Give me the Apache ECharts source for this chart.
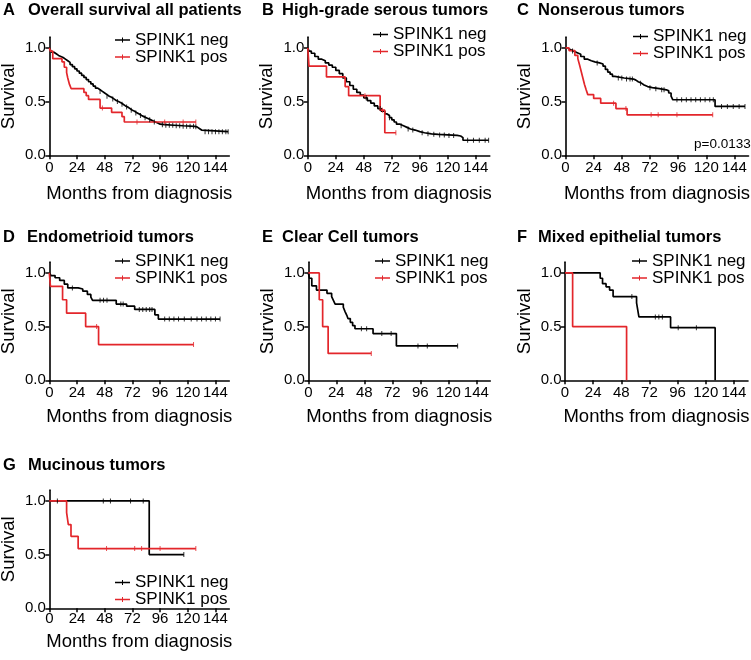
<!DOCTYPE html>
<html><head><meta charset="utf-8">
<script src="https://cdn.jsdelivr.net/npm/echarts@6/dist/echarts.min.js"></script>
<style>html,body{margin:0;padding:0;background:#fff}#c{width:751px;height:660px}</style>
</head><body><div id="c"></div>
<script>
// ---------- labels ----------
const panelLetters = ['A','B','C','D','E','F','G'];
const panelTitles = ['Overall survival all patients','High-grade serous tumors','Nonserous tumors','Endometrioid tumors','Clear Cell tumors','Mixed epithelial tumors','Mucinous tumors'];
const seriesNames = ['SPINK1 neg','SPINK1 pos'];
const xTicks = [0,24,48,72,96,120,144];
const yTicks = [0,0.5,1.0];
const xAxisTitle = 'Months from diagnosis';
const yAxisTitle = 'Survival';
const pValueC = 'p=0.0133';

// ---------- A: Overall survival all patients ----------
const aNegT = [0,1,2,4,6,8,10,12,14,16,18,20,22,24,26,28,30,32,34,36,38,40,42,44,46,48,50,52,54,56,58,60,62,64,66,68,70,72,74,76,78,80,82,84,86,88,90,92,94,96,100,108,116,126,128,130,132,155];
const aNegS = [1.0,0.98,0.96,0.945,0.93,0.92,0.91,0.895,0.88,0.865,0.845,0.825,0.805,0.785,0.765,0.745,0.725,0.705,0.685,0.665,0.645,0.625,0.61,0.595,0.58,0.565,0.55,0.54,0.525,0.51,0.50,0.49,0.475,0.46,0.45,0.435,0.42,0.41,0.395,0.385,0.37,0.36,0.35,0.34,0.33,0.32,0.31,0.30,0.29,0.285,0.28,0.275,0.27,0.265,0.25,0.235,0.22,0.22];
const aNegC = [44,50,55,59,63,67,71,75,79,83,87,91,98,101,104,107,110,113,116,119,122,125,127,135,138,141,144,147,150,153,155];
const aPosT = [0,1,3,11,13,15,16,17.5,19,30,32,34,44,54,63,65,127];
const aPosS = [1.0,0.97,0.90,0.87,0.82,0.77,0.72,0.66,0.62,0.585,0.555,0.52,0.44,0.40,0.36,0.31,0.31];
const aPosC = [46,76,100,116,127];

// ---------- B: High-grade serous ----------
const bNegT = [0,1,3,6,9,12,15,18,21,24,27,30,33,36,39,42,45,48,51,54,57,60,63,66,68,70,72,74,76,79,82,85,88,92,96,100,106,112,120,128,131,133,155];
const bNegS = [1.0,0.97,0.95,0.92,0.895,0.88,0.86,0.84,0.82,0.79,0.76,0.72,0.685,0.65,0.615,0.585,0.56,0.535,0.51,0.485,0.46,0.435,0.41,0.385,0.37,0.35,0.33,0.31,0.29,0.275,0.26,0.245,0.235,0.22,0.21,0.2,0.195,0.19,0.185,0.18,0.165,0.14,0.14];
const bNegC = [50,62,70,80,86,90,98,103,108,113,117,121,125,137,142,147,152,155];
const bPosT = [0,1,16,32,35,62,66,75.5];
const bPosS = [1.0,0.83,0.73,0.64,0.555,0.42,0.21,0.21];
const bPosC = [49,64,75.5];

// ---------- C: Nonserous ----------
const cNegT = [0,2,4,7,10,13,16,19,22,25,29,32,34,36,38,40,42,50,58,60,62,65,67,70,74,80,86,88,90,91.5,127.5,153];
const cNegS = [1.0,0.985,0.97,0.955,0.94,0.92,0.895,0.88,0.87,0.86,0.85,0.83,0.80,0.775,0.755,0.735,0.72,0.71,0.70,0.685,0.67,0.655,0.64,0.63,0.62,0.61,0.60,0.58,0.55,0.517,0.455,0.455];
const cNegC = [6,27,45,48,52,55,57,64,72,77,82,84,95,99,103,107,111,115,119,123,126,133,138,143,148,153];
const cPosT = [0,3,8,10.5,12,13.4,14.8,16.2,17.6,19,24,30,43,52.5,125.5];
const cPosS = [1.0,0.975,0.93,0.90,0.84,0.78,0.72,0.66,0.61,0.565,0.53,0.485,0.435,0.377,0.377];
const cPosC = [41,51.5,73,79,95,125.5];

// ---------- D: Endometrioid ----------
const dNegT = [0,1.5,5,9,13,16,25,29,33,36,37.5,58,67,74,91.5,94.5,148];
const dNegS = [1.0,0.975,0.955,0.93,0.895,0.86,0.85,0.83,0.80,0.775,0.745,0.71,0.69,0.66,0.61,0.57,0.57];
const dNegC = [20,44,47,50,62,64,78,81,84,87,89,100,104,108,112,117,123,128,132,136,140,144,148];
const dPosT = [0,1,11.5,15,31.5,42.7,125];
const dPosS = [1.0,0.875,0.75,0.625,0.5,0.333,0.333];
const dPosC = [41,125];

// ---------- E: Clear Cell ----------
const eNegT = [0,1,3,7,16,20,21.5,23,30,31.5,33,34,36,38,40,55.5,75.5,128];
const eNegS = [1.0,0.95,0.88,0.84,0.81,0.78,0.745,0.71,0.68,0.64,0.605,0.575,0.54,0.51,0.48,0.435,0.32,0.32];
const eNegC = [45.5,50,63,71,94,102,128];
const ePosT = [0,9.4,12.3,17,54];
const ePosS = [1.0,0.75,0.5,0.25,0.25];
const ePosC = [54];

// ---------- F: Mixed epithelial ----------
const fNegT = [0,30,32,35,38,41,61,62,63,90,128];
const fNegS = [1.0,0.95,0.90,0.87,0.84,0.78,0.72,0.655,0.59,0.49,0];
const fNegC = [57,77,80,83,96.5,112];
const fPosT = [0,6.5,52.5];
const fPosS = [1.0,0.5,0];
const fPosC = [];

// ---------- G: Mucinous ----------
const gNegT = [0,86.6,116.6];
const gNegS = [1.0,0.5,0.5];
const gNegC = [7,46.8,53,70.4,81.4,116.6];
const gPosT = [0,15,16.5,18.8,25,127];
const gPosS = [1.0,0.89,0.78,0.67,0.556,0.556];
const gPosC = [49.6,74,80,96,127];

const panelData = [
  [aNegT,aNegS,aNegC,aPosT,aPosS,aPosC],
  [bNegT,bNegS,bNegC,bPosT,bPosS,bPosC],
  [cNegT,cNegS,cNegC,cPosT,cPosS,cPosC],
  [dNegT,dNegS,dNegC,dPosT,dPosS,dPosC],
  [eNegT,eNegS,eNegC,ePosT,ePosS,ePosC],
  [fNegT,fNegS,fNegC,fPosT,fPosS,fPosC],
  [gNegT,gNegS,gNegC,gPosT,gPosS,gPosC]
];

// ---------- layout (positions / styles) ----------
const FONT = '"Liberation Sans", Arial, Helvetica, sans-serif';
const BLACK = '#000000';
const RED = '#e3262b';
const colors = [BLACK, RED];
const X_MAX = 156, Y_MAX = 1.1, UNIT_H = 107.4;
const layout = [
  {gx:49.3, gy0:155.3, w:180, lgX:115, lgY:31.5, lx:3,   tx:28,  ty:1.75,  ng:29, lm:5.5},
  {gx:307.8,gy0:155.3, w:182, lgX:373, lgY:26,   lx:262, tx:282, ty:1.75,  ng:29, lm:5.5},
  {gx:565.5,gy0:155.3, w:183, lgX:633, lgY:28,   lx:517, tx:538, ty:1.75,  ng:29, lm:5.5},
  {gx:49.3, gy0:380.3, w:180, lgX:115, lgY:252.5,lx:3,   tx:27,  ty:228.5, ng:27, lm:5.5},
  {gx:308.3,gy0:380.3, w:182, lgX:375, lgY:252.5,lx:262, tx:282, ty:228.5, ng:27, lm:5.5},
  {gx:565,  gy0:380.3, w:183, lgX:632, lgY:252.5,lx:517, tx:538, ty:228.5, ng:27, lm:5.5},
  {gx:49.3, gy0:608.3, w:180, lgX:115, lgY:574,  lx:3,   tx:28,  ty:457,   ng:24, lm:3}
];
const legendIcon = 'path://M0,2.75H15V4.25H0Z M7,1H8V6H7Z';

function survAt(T, S, t) {
  let v = S[0];
  for (let i = 0; i < T.length; i++) if (T[i] <= t + 1e-9) v = S[i];
  return v;
}

const grid = [], xAxis = [], yAxis = [], title = [], legend = [];
const lineSeries = [], censorSeries = [];
const H = Y_MAX * UNIT_H;

layout.forEach((L, i) => {
  grid.push({left: L.gx, top: L.gy0 - H, width: L.w, height: H, containLabel: false, outerBoundsMode: 'none'});
  xAxis.push({
    type: 'value', gridIndex: i, min: 0, max: X_MAX,
    axisLine: {show: true, onZero: false, lineStyle: {color: BLACK, width: 1.6}},
    axisTick: {show: true, inside: false, length: 4, customValues: xTicks, lineStyle: {color: BLACK, width: 1.5}},
    axisLabel: {show: true, customValues: xTicks, margin: L.lm, fontSize: 15, color: BLACK, fontFamily: FONT, hideOverlap: false},
    splitLine: {show: false},
    name: xAxisTitle, nameLocation: 'middle', nameGap: L.ng, nameMoveOverlap: false,
    nameTextStyle: {fontSize: 18.5, color: BLACK, fontFamily: FONT}
  });
  yAxis.push({
    type: 'value', gridIndex: i, min: 0, max: Y_MAX,
    axisLine: {show: true, onZero: false, lineStyle: {color: BLACK, width: 1.6}},
    axisTick: {show: true, inside: false, length: 4, customValues: yTicks, lineStyle: {color: BLACK, width: 1.5}},
    axisLabel: {show: true, customValues: yTicks, margin: 3.5, fontSize: 15, color: BLACK, fontFamily: FONT,
      formatter: v => Number(v).toFixed(1)},
    splitLine: {show: false},
    name: yAxisTitle, nameLocation: 'middle', nameGap: 31, nameMoveOverlap: false,
    nameTextStyle: {fontSize: 18.5, color: BLACK, fontFamily: FONT}
  });
  title.push({text: panelLetters[i], left: L.lx, top: L.ty, padding: 0,
    textStyle: {fontSize: 16.5, fontWeight: 'bold', color: BLACK, fontFamily: FONT}});
  title.push({text: panelTitles[i], left: L.tx, top: L.ty, padding: 0,
    textStyle: {fontSize: 16.5, fontWeight: 'bold', color: BLACK, fontFamily: FONT}});
  legend.push({
    orient: 'vertical', left: L.lgX, top: L.lgY, padding: 0, itemGap: 0,
    itemWidth: 15, itemHeight: 7, icon: legendIcon, selectedMode: false,
    textStyle: {fontSize: 17, lineHeight: 17, color: BLACK, fontFamily: FONT},
    data: seriesNames.map((n, k) => ({name: n, icon: legendIcon, itemStyle: {color: colors[k], borderWidth: 0}}))
  });

  const D = panelData[i];
  [0, 1].forEach(k => {
    const T = D[k*3], S = D[k*3+1], C = D[k*3+2];
    lineSeries.push({
      type: 'line', name: seriesNames[k], xAxisIndex: i, yAxisIndex: i,
      step: 'end', symbol: 'none', showSymbol: false, animation: false, silent: true,
      lineStyle: {color: colors[k], width: 1.7}, itemStyle: {color: colors[k]},
      data: T.map((t, j) => [t, S[j]]), z: 2 + k
    });
    censorSeries.push({
      type: 'scatter', name: seriesNames[k] + ' censored', xAxisIndex: i, yAxisIndex: i,
      symbol: 'rect', symbolSize: [1, 5], animation: false, silent: true,
      itemStyle: {color: colors[k]},
      data: C.map(t => [t, survAt(T, S, t)]), z: 4 + k
    });
  });
});

title.push({text: pValueC, left: 694, top: 137, padding: 0,
  textStyle: {fontSize: 13.5, fontWeight: 'normal', color: BLACK, fontFamily: FONT}});

const chart = echarts.init(document.getElementById('c'), null, {renderer: 'canvas'});
chart.setOption({
  backgroundColor: '#ffffff',
  animation: false,
  textStyle: {fontFamily: FONT},
  title, legend, grid, xAxis, yAxis,
  tooltip: {show: false},
  series: lineSeries.concat(censorSeries)
});
</script>
</body></html>
